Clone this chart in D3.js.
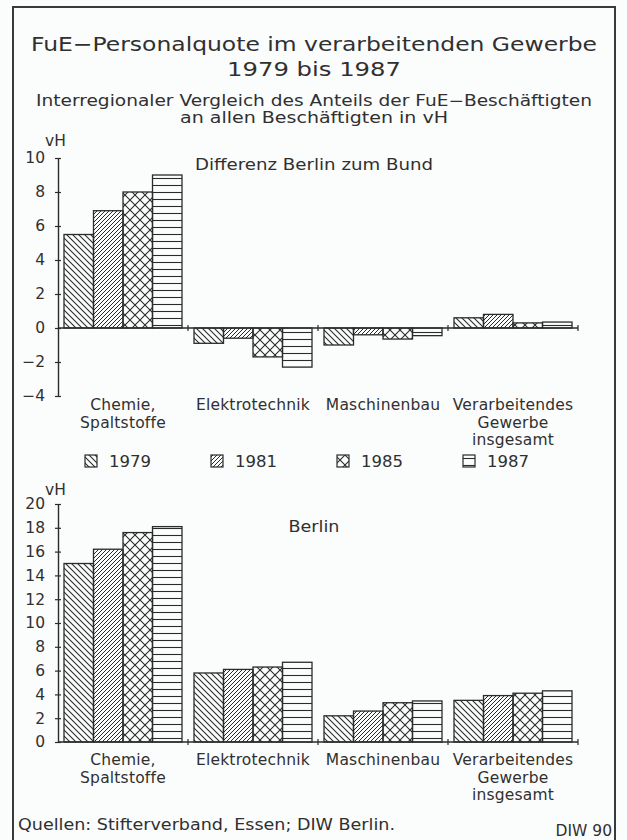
<!DOCTYPE html>
<html><head><meta charset="utf-8">
<script src="https://cdn.jsdelivr.net/npm/d3@7/dist/d3.min.js"></script>
<style>
body{margin:0;background:#fbfcfc}
svg{display:block}
text{font-family:"DejaVu Sans","Liberation Sans",Arial,sans-serif;fill:#303030}
</style>
</head><body>
<svg id="c" width="627" height="840"></svg>
<script>
// ---- data ----
const categoryLabels = [["Chemie,","Spaltstoffe"],["Elektrotechnik"],["Maschinenbau"],["Verarbeitendes","Gewerbe","insgesamt"]];
const years = ["1979","1981","1985","1987"];
const diffValues = [
  [5.5, 6.9, 8.0, 9.0],
  [-0.9, -0.6, -1.7, -2.3],
  [-1.0, -0.4, -0.65, -0.45],
  [0.6, 0.8, 0.3, 0.35]
];
const berlinValues = [
  [15.0, 16.2, 17.6, 18.1],
  [5.8, 6.1, 6.3, 6.7],
  [2.2, 2.6, 3.3, 3.45],
  [3.5, 3.9, 4.1, 4.3]
];
const diffTicks = [-4,-2,0,2,4,6,8,10];
const berlinTicks = [0,2,4,6,8,10,12,14,16,18,20];
const titleLines = ["FuE\u2212Personalquote im verarbeitenden Gewerbe","1979 bis 1987"];
const subtitleLines = ["Interregionaler Vergleich des Anteils der FuE\u2212Besch\u00e4ftigten","an allen Besch\u00e4ftigten in vH"];

const ink = "#2b2b2b";
const svg = d3.select("#c");
const FONT = "DejaVu Sans, Liberation Sans, Arial, sans-serif";

// ---- patterns ----
const defs = svg.append("defs");
function pat(id, w, h, draw){
  const p = defs.append("pattern").attr("id", id).attr("patternUnits","userSpaceOnUse")
    .attr("width", w).attr("height", h);
  draw(p);
}
pat("p1979", 6, 6, p => {
  p.append("path").attr("d","M-1,-1 L7,7 M-1,5 L1,7 M5,-1 L7,1").attr("stroke",ink).attr("stroke-width",1.1);
});
pat("p1981", 4, 4, p => {
  p.append("path").attr("d","M-1,5 L5,-1 M-1,1 L1,-1 M3,5 L5,3").attr("stroke",ink).attr("stroke-width",1.0);
});
pat("p1985", 10, 10, p => {
  p.append("path").attr("d","M0,0 L10,10 M10,0 L0,10").attr("stroke",ink).attr("stroke-width",1.1);
});
pat("p1987", 10, 7, p => {
  p.append("path").attr("d","M0,3.5 L10,3.5").attr("stroke",ink).attr("stroke-width",1.1);
});

// ---- frame ----
svg.append("rect").attr("x",13).attr("y",7).attr("width",602).attr("height",900)
  .attr("fill","none").attr("stroke","#3a3a3a").attr("stroke-width",2);

// ---- titles ----
svg.selectAll("text.title").data(titleLines).join("text").attr("class","title")
  .attr("x",314).attr("y",(d,i)=>51+i*25).attr("text-anchor","middle")
  .attr("font-size",19.5).attr("textLength",(d,i)=>[566,174][i]).attr("lengthAdjust","spacingAndGlyphs")
  .text(d=>d);
svg.selectAll("text.sub").data(subtitleLines).join("text").attr("class","sub")
  .attr("x",314).attr("y",(d,i)=>106+i*17).attr("text-anchor","middle")
  .attr("font-size",15).attr("textLength",(d,i)=>[556,268][i]).attr("lengthAdjust","spacingAndGlyphs")
  .text(d=>d);

// ---- scales ----
const x = d3.scaleBand().domain(d3.range(categoryLabels.length)).range([58,578]).padding(0);
const xi = d3.scaleBand().domain(years).range([6,124]).padding(0);

function panel(values, y, ticks, labelY, unitY, titleText, titleY, titleLen){
  const g = svg.append("g");
  const y0 = y(0);
  values.forEach((row,i)=>{
    g.selectAll(null).data(row.map((v,j)=>({v, yr:years[j]}))).join("rect")
      .attr("x", d=>x(i)+xi(d.yr)).attr("width", xi.bandwidth())
      .attr("y", d=>y(Math.max(0,d.v))).attr("height", d=>Math.abs(y(d.v)-y0))
      .attr("fill", d=>"url(#p"+d.yr+")").attr("stroke",ink).attr("stroke-width",1.3);
  });
  const ax = g.append("g").attr("transform","translate(58,0)")
    .call(d3.axisLeft(y).tickValues(ticks).tickSize(3).tickSizeOuter(0).tickPadding(10));
  ax.select(".domain").attr("stroke",ink).attr("stroke-width",1.4);
  ax.selectAll(".tick line").attr("x1",3).attr("stroke",ink).attr("stroke-width",1.2);
  ax.selectAll(".tick text").attr("font-size",15.5)
    .attr("font-family",FONT).attr("fill","#303030");
  g.append("line").attr("x1",x.range()[0]).attr("x2",x.range()[1]).attr("y1",y0).attr("y2",y0)
    .attr("stroke",ink).attr("stroke-width",1.4);
  g.selectAll(null).data(x.domain()).join("line")
    .attr("x1",d=>x(d)+x.bandwidth()).attr("x2",d=>x(d)+x.bandwidth())
    .attr("y1",y0-3).attr("y2",y0+3).attr("stroke",ink).attr("stroke-width",1.2);
  categoryLabels.forEach((lines,i)=>{
    g.selectAll(null).data(lines).join("text")
      .attr("x", x(i)+x.bandwidth()/2).attr("y",(d,k)=>labelY+k*17.5)
      .attr("text-anchor","middle").attr("font-size",15.5).attr("letter-spacing",0.2)
      .text(d=>d);
  });
  g.append("text").attr("x",45).attr("y",unitY).attr("font-size",15.5).text("vH");
  g.append("text").attr("x",314).attr("y",titleY).attr("text-anchor","middle")
    .attr("font-size",15.5).attr("textLength",titleLen).attr("lengthAdjust","spacingAndGlyphs").text(titleText);
}

const yDiff = d3.scaleLinear().domain([-4,10]).range([396,158]);
const yBer = d3.scaleLinear().domain([0,20]).range([742,504]);
panel(diffValues, yDiff, diffTicks, 410, 146, "Differenz Berlin zum Bund", 170, 238);
panel(berlinValues, yBer, berlinTicks, 765, 495, "Berlin", 532, 51);

// ---- legend ----
const lx = d3.scaleBand().domain(years).range([85,589]);
const lg = svg.append("g");
lg.selectAll("rect").data(years).join("rect")
  .attr("x",d=>lx(d)).attr("y",455).attr("width",12).attr("height",12)
  .attr("fill",d=>"url(#p"+d+")").attr("stroke",ink).attr("stroke-width",1.2);
lg.selectAll("text").data(years).join("text")
  .attr("x",d=>lx(d)+24).attr("y",467).attr("font-size",16.5)
  .text(d=>d);

// ---- footer ----
svg.append("text").attr("x",18).attr("y",830).attr("font-size",15.5)
  .attr("textLength",377).attr("lengthAdjust","spacingAndGlyphs")
  .text("Quellen: Stifterverband, Essen; DIW Berlin.");
svg.append("text").attr("x",612).attr("y",836).attr("text-anchor","end").attr("font-size",15.5)
  .text("DIW 90");
</script>
</body></html>
